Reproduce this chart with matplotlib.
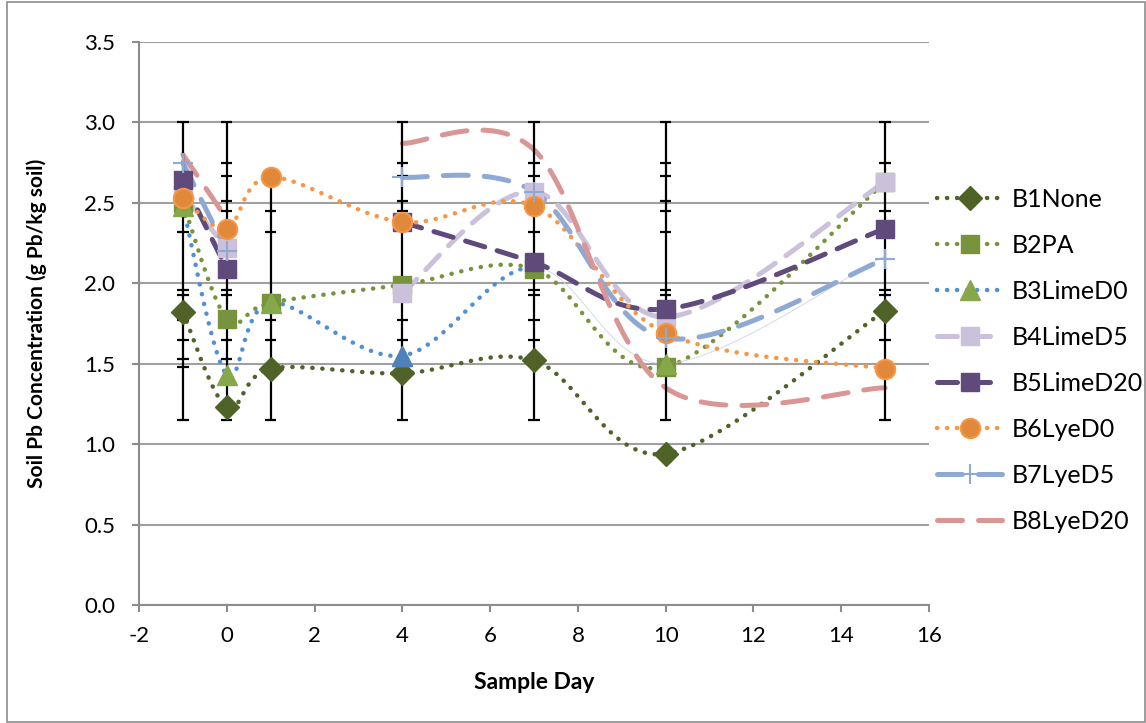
#Soil Pb concentration vs sample day
import matplotlib
matplotlib.use("Agg")
import matplotlib.pyplot as plt
from matplotlib.lines import Line2D
from matplotlib.patches import Rectangle
import numpy as np

plt.rcParams['font.family'] = ['Lato', 'DejaVu Sans']
plt.rcParams['axes.unicode_minus'] = False

#Datos
days = [-1, 0, 1, 4, 7, 10, 15]
b1 = [1.82, 1.23, 1.47, 1.44, 1.52, 0.94, 1.83]
b2 = [2.50, 1.78, 1.88, 1.99, 2.09, 1.48, 2.63]
b3 = [2.48, 1.43, 1.88, 1.55, 2.10, 1.50, 2.17]
b4 = [2.55, 2.22, None, 1.94, 2.57, 1.79, 2.63]
b5 = [2.64, 2.09, None, 2.38, 2.13, 1.84, 2.34]
b6 = [2.53, 2.34, 2.66, 2.38, 2.48, 1.69, 1.47]
b7 = [2.75, 2.20, None, 2.66, 2.57, 1.66, 2.15]
b8 = [2.80, 2.40, None, 2.87, 2.83, 1.35, 1.35]

#niveles de las barras de error por dia
err_caps = {
    -1: [3.0, 2.32, 1.96, 1.93, 1.77, 1.65, 1.53, 1.48, 1.15],
    0: [3.0, 2.75, 2.67, 2.51, 2.45, 1.96, 1.93, 1.77, 1.65, 1.53, 1.15],
    1: [2.66, 2.45, 2.32, 1.77, 1.65, 1.15],
    4: [3.0, 2.75, 2.67, 2.51, 2.45, 1.77, 1.65, 1.53, 1.15],
    7: [3.0, 2.75, 2.67, 2.32, 1.96, 1.93, 1.77, 1.65, 1.15],
    10: [3.0, 2.75, 2.67, 2.51, 2.45, 2.32, 1.96, 1.93, 1.15],
    15: [3.0, 2.75, 2.45, 1.96, 1.93, 1.65, 1.15],
}

fig = plt.figure(figsize=(11.46, 7.23), dpi=100)
ax = fig.add_axes([139/1146, 1-605/723, (929-139)/1146, (605-42)/723])

XS, YS = 43.9, 160.9  # px por unidad, para suavizar como Excel


def smooth(xs, ys, n=40):
    pts = np.column_stack([np.array(xs, float)*XS, np.array(ys, float)*YS])
    out = [pts[0]]
    for i in range(len(pts)-1):
        p0 = pts[i-1] if i > 0 else pts[i]
        p1, p2 = pts[i], pts[i+1]
        p3 = pts[i+2] if i+2 < len(pts) else pts[i+1]
        c1 = p1 + (p2-p0)/6
        c2 = p2 - (p3-p1)/6
        t = np.linspace(0, 1, n)[1:, None]
        seg = (1-t)**3*p1 + 3*(1-t)**2*t*c1 + 3*(1-t)*t**2*c2 + t**3*p2
        out.extend(seg)
    out = np.array(out)
    return out[:, 0]/XS, out[:, 1]/YS


def runs(xs, ys):
    segs, cx, cy = [], [], []
    for x, y in zip(xs, ys):
        if y is None:
            if cx:
                segs.append((cx, cy))
            cx, cy = [], []
        else:
            cx.append(x)
            cy.append(y)
    if cx:
        segs.append((cx, cy))
    return segs


dot = (0, (0.05, 2.2))
series = [
    ("B1None", b1, dict(color='#4F6228', ls=dot, lw=3.2), dict(marker='D', ms=12, mfc='#4F6228', mec='#4F6228')),
    ("B2PA", b2, dict(color='#77933C', ls=dot, lw=3.2), dict(marker='s', ms=13, mfc='#77933C', mec='#77933C')),
    ("B3LimeD0", b3, dict(color='#4F8FD6', ls=dot, lw=3.2), dict(marker='^', ms=14, mfc='#86A84A', mec='#86A84A')),
    ("B4LimeD5", b4, dict(color='#CCC1DA', ls=(0, (4, 2.6)), lw=3.6), dict(marker='s', ms=13, mfc='#CCC1DA', mec='#CCC1DA')),
    ("B5LimeD20", b5, dict(color='#604A7B', ls=(0, (4, 2.6)), lw=3.6), dict(marker='s', ms=13, mfc='#604A7B', mec='#604A7B')),
    ("B6LyeD0", b6, dict(color='#F79646', ls=dot, lw=3.2), dict(marker='o', ms=14, mfc='#E0893A', mec='#F79646', mew=1.5)),
    ("B7LyeD5", b7, dict(color='#8EA9D4', ls=(0, (5, 3.2)), lw=3.6), dict(marker='+', ms=14, mfc='#8EA9D4', mec='#8EA9D4', mew=1.5)),
    ("B8LyeD20", b8, dict(color='#D99694', ls=(0, (5, 3.2)), lw=3.6), dict(marker='None')),
]

#barras de error
for d, caps in err_caps.items():
    ax.vlines(d, min(caps), max(caps), color='black', lw=1.6, zorder=4)
    ax.hlines(caps, d-0.13, d+0.13, color='black', lw=1.6, zorder=4)

handles = []
for name, vals, lst, mst in series:
    for sx_, sy_ in runs(days, vals):
        xx, yy = smooth(sx_, sy_)
        if name == "B3LimeD0":
            k = (len(xx)-1)*4//6
            ax.plot(xx[:k+1], yy[:k+1], dash_capstyle='round', solid_capstyle='round', zorder=3, **lst)
            ax.plot(xx[k:], yy[k:], color='#C8D6EA', lw=0.6, zorder=3)
        else:
            ax.plot(xx, yy, dash_capstyle='round', solid_capstyle='round', zorder=3, **lst)
    pts = [(d, v) for d, v in zip(days, vals) if v is not None]
    if name == "B3LimeD0":
        pts = [pts[i] for i in (0, 1, 2, 3, 5)]
    ax.plot([p[0] for p in pts], [p[1] for p in pts], ls='None', zorder=5, **mst)
    handles.append(Line2D([], [], dash_capstyle='round', **lst, **mst))

#triangulo azul en el dia 4
ax.plot(days[3], b3[3], ls='None', marker='^', ms=14, mfc='#4F81BD', mec='#4F81BD', zorder=5)

ax.set_xlim(-2, 16)
ax.set_ylim(0, 3.5)
ax.set_xticks(np.arange(-2, 17, 2))
ax.set_yticks(np.arange(0, 3.51, 0.5))
ax.set_yticklabels([f"{v:.1f}" for v in np.arange(0, 3.51, 0.5)])
ax.grid(axis='y', color='#A0A0A0', lw=1.5)
ax.set_axisbelow(True)
for s in ['top', 'right']:
    ax.spines[s].set_visible(False)
for s in ['left', 'bottom']:
    ax.spines[s].set_color('#8C8C8C')
    ax.spines[s].set_linewidth(1.5)
ax.tick_params(axis='both', colors='#8C8C8C', length=5, width=1.5, labelsize=16, labelcolor='black')
ax.tick_params(axis='y', pad=12)
ax.tick_params(axis='x', pad=10)
ax.set_xlabel("Sample Day", fontsize=16.5, fontweight='bold', labelpad=18.5)
ax.set_ylabel("Soil Pb Concentration (g Pb/kg soil)", fontsize=15, fontweight='bold', labelpad=27)

fig.legend(handles, [s[0] for s in series], loc='upper left', bbox_to_anchor=(937/1146, 1-188/723),
           frameon=False, fontsize=18, handlelength=2.6, labelspacing=0.92, handletextpad=0.4,
           borderpad=0, borderaxespad=0)

fig.patches.append(Rectangle((7/1146, 1/723), 1-8/1146, 1-3/723, transform=fig.transFigure,
                             fill=False, edgecolor='#8C8C8C', lw=1.2))

fig.savefig("out.png", dpi=100)
